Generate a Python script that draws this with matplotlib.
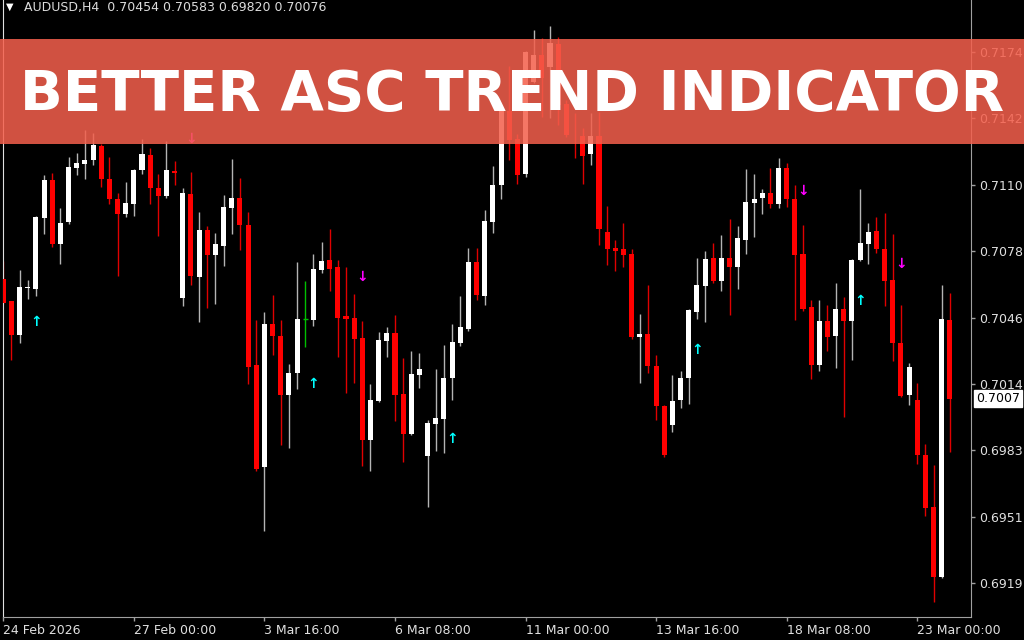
import matplotlib
matplotlib.use("Agg")
import matplotlib.pyplot as plt
from matplotlib.patches import Rectangle
import numpy as np

# ---------------- data (AUDUSD H4) ----------------
opens = [0.70651, 0.70543, 0.70380, 0.70605, 0.70604, 0.70945, 0.71126, 0.70820, 0.70922, 0.71182,
         0.71203, 0.71220, 0.71287, 0.71131, 0.71036, 0.70962, 0.71010, 0.71173, 0.71245, 0.71089,
         0.71046, 0.71169, 0.70560, 0.71057, 0.70658, 0.70883, 0.70763, 0.70810, 0.70993, 0.71038,
         0.70911, 0.70235, 0.69746, 0.70435, 0.70378, 0.70095, 0.70199, 0.70460, 0.70451, 0.70693,
         0.70740, 0.70706, 0.70471, 0.70463, 0.70366, 0.69875, 0.70065, 0.70351, 0.70392, 0.70099,
         0.69907, 0.70190, 0.69801, 0.69954, 0.69977, 0.70173, 0.70345, 0.70411, 0.70731, 0.70569,
         0.70922, 0.71101, 0.71456, 0.71321, 0.71154, 0.71596, 0.71725, 0.71669, 0.71778, 0.71490,
         0.71348, 0.71336, 0.71249, 0.71336, 0.70874, 0.70799, 0.70794, 0.70771, 0.70370, 0.70385,
         0.70233, 0.70040, 0.69949, 0.70070, 0.70173, 0.70493, 0.70618, 0.70750, 0.70642, 0.70750,
         0.70708, 0.70839, 0.71017, 0.71040, 0.71065, 0.71010, 0.71181, 0.71035, 0.70771, 0.70514,
         0.70237, 0.70449, 0.70376, 0.70504, 0.70449, 0.70739, 0.70818, 0.70880, 0.70792, 0.70645,
         0.70345, 0.70092, 0.70070, 0.69807, 0.69556, 0.69219, 0.70454]
highs = [0.70736, 0.70545, 0.70695, 0.70645, 0.70953, 0.71148, 0.71160, 0.70989, 0.71237, 0.71253,
         0.71363, 0.71353, 0.71296, 0.71234, 0.71063, 0.71116, 0.71177, 0.71322, 0.71279, 0.71154,
         0.71313, 0.71217, 0.71087, 0.71162, 0.70970, 0.70904, 0.70871, 0.71055, 0.71226, 0.71137,
         0.70970, 0.70455, 0.70493, 0.70575, 0.70455, 0.70241, 0.70731, 0.70642, 0.70771, 0.70827,
         0.70888, 0.70740, 0.70706, 0.70577, 0.70448, 0.70144, 0.70396, 0.70418, 0.70477, 0.70272,
         0.70304, 0.70294, 0.69973, 0.70220, 0.70332, 0.70436, 0.70569, 0.70799, 0.70799, 0.70983,
         0.71192, 0.71471, 0.71672, 0.71344, 0.71742, 0.71847, 0.71808, 0.71866, 0.71813, 0.71509,
         0.71447, 0.71375, 0.71447, 0.71453, 0.71002, 0.70837, 0.70917, 0.70794, 0.70480, 0.70622,
         0.70285, 0.70044, 0.70190, 0.70209, 0.70508, 0.70752, 0.70784, 0.70822, 0.70860, 0.70940,
         0.70904, 0.71177, 0.71154, 0.71082, 0.71181, 0.71230, 0.71207, 0.71101, 0.70907, 0.70551,
         0.70551, 0.70527, 0.70632, 0.70563, 0.70746, 0.71083, 0.70920, 0.70949, 0.70965, 0.70867,
         0.70527, 0.70249, 0.70151, 0.69860, 0.69758, 0.70622, 0.70583]
lows = [0.70528, 0.70262, 0.70342, 0.70552, 0.70566, 0.70866, 0.70803, 0.70723, 0.70913, 0.71148,
        0.71131, 0.71199, 0.71093, 0.71008, 0.70664, 0.70949, 0.70951, 0.71152, 0.71012, 0.70856,
        0.71040, 0.71103, 0.70518, 0.70622, 0.70442, 0.70512, 0.70528, 0.70714, 0.70866, 0.70788,
        0.70144, 0.69727, 0.69440, 0.70285, 0.69854, 0.69841, 0.70120, 0.70323, 0.70426, 0.70680,
        0.70590, 0.70275, 0.70104, 0.70152, 0.69750, 0.69730, 0.70061, 0.70274, 0.69968, 0.69772,
        0.69901, 0.70129, 0.69556, 0.69822, 0.69817, 0.70068, 0.70330, 0.70398, 0.70547, 0.70526,
        0.70872, 0.71036, 0.71221, 0.71106, 0.71140, 0.71591, 0.71427, 0.71423, 0.71389, 0.71331,
        0.71231, 0.71105, 0.71198, 0.70813, 0.70717, 0.70687, 0.70708, 0.70363, 0.70152, 0.70201,
        0.69973, 0.69797, 0.69916, 0.70032, 0.70049, 0.70460, 0.70442, 0.70631, 0.70590, 0.70476,
        0.70604, 0.70769, 0.70851, 0.70962, 0.70993, 0.70989, 0.70996, 0.70455, 0.70497, 0.70170,
        0.70210, 0.70302, 0.70223, 0.69988, 0.70259, 0.70736, 0.70724, 0.70773, 0.70518, 0.70257,
        0.70082, 0.70047, 0.69761, 0.69513, 0.69100, 0.69215, 0.69820]
closes = [0.70537, 0.70380, 0.70611, 0.70611, 0.70947, 0.71126, 0.70818, 0.70920, 0.71186, 0.71205,
          0.71220, 0.71291, 0.71129, 0.71036, 0.70962, 0.71017, 0.71175, 0.71249, 0.71089, 0.71046,
          0.71171, 0.71160, 0.71063, 0.70664, 0.70883, 0.70767, 0.70818, 0.70996, 0.71038, 0.70907,
          0.70228, 0.69740, 0.70435, 0.70375, 0.70095, 0.70201, 0.70460, 0.70460, 0.70697, 0.70736,
          0.70698, 0.70463, 0.70459, 0.70361, 0.69875, 0.70068, 0.70357, 0.70392, 0.70095, 0.69907,
          0.70194, 0.70216, 0.69958, 0.69981, 0.70173, 0.70349, 0.70418, 0.70731, 0.70575, 0.70926,
          0.71103, 0.71458, 0.71315, 0.71148, 0.71738, 0.71725, 0.71615, 0.71784, 0.71485, 0.71341,
          0.71344, 0.71239, 0.71336, 0.70892, 0.70793, 0.70786, 0.70765, 0.70372, 0.70385, 0.70233,
          0.70038, 0.69803, 0.70066, 0.70176, 0.70499, 0.70622, 0.70744, 0.70642, 0.70752, 0.70708,
          0.70848, 0.71019, 0.71036, 0.71065, 0.71008, 0.71181, 0.71033, 0.70763, 0.70507, 0.70237,
          0.70449, 0.70370, 0.70504, 0.70449, 0.70743, 0.70822, 0.70877, 0.70792, 0.70641, 0.70345,
          0.70090, 0.70227, 0.69807, 0.69552, 0.69219, 0.70459, 0.70076]
green_doji = [37]

# Better ASC Trend signals (bar index, price)
buy_bars = [4, 38, 55, 85, 105]
buy_prices = [0.70442, 0.70148, 0.69882, 0.70310, 0.70542]
sell_bars = [23, 44, 71, 98, 110]
sell_prices = [0.71321, 0.70660, 0.71557, 0.71072, 0.70724]

ytick_vals = [0.71740, 0.71421, 0.71103, 0.70784, 0.70465, 0.70146, 0.69828, 0.69509, 0.69190]
ytick_labels = ["0.7174", "0.7142", "0.7110", "0.7078", "0.7046", "0.7014", "0.6983", "0.6951", "0.6919"]
xtick_bars = [0, 16, 32, 48, 64, 80, 96, 112]
xtick_labels = ["24 Feb 2026", "27 Feb 00:00", "3 Mar 16:00", "6 Mar 08:00",
                "11 Mar 00:00", "13 Mar 16:00", "18 Mar 08:00", "23 Mar 00:00"]
last_price = 0.70076
last_price_label = "0.7007"
header = "AUDUSD,H4  0.70454 0.70583 0.69820 0.70076"
title = "BETTER ASC TREND INDICATOR"

# ---------------- figure ----------------
W, H = 1024, 640
fig = plt.figure(figsize=(W / 100, H / 100), dpi=100, facecolor="black")
ax = fig.add_axes([2.7 / W, 23 / H, 968 / W, 617 / H])
ax.set_facecolor("black")

o = np.array(opens); h = np.array(highs); l = np.array(lows); c = np.array(closes)
x = np.arange(len(o))
bull = c >= o
special = np.zeros(len(o), bool); special[green_doji] = True
nb = bull & ~special
br = ~bull & ~special

ax.vlines(x[nb], l[nb], h[nb], color="#b4b4b4", lw=1, zorder=2)
ax.vlines(x[br], l[br], h[br], color="#e00000", lw=1, zorder=2)
bottoms = np.minimum(o, c)
heights = np.maximum(np.abs(c - o), 0.00004)
ax.bar(x[nb], heights[nb], bottom=bottoms[nb], width=0.62, color="white", linewidth=0, zorder=3)
ax.bar(x[br], heights[br], bottom=bottoms[br], width=0.62, color="#ff0000", linewidth=0, zorder=3)
for i in green_doji:
    ax.vlines(i, lows[i], highs[i], color="#00c000", lw=1, zorder=2)
    ax.hlines(opens[i], i - 0.31, i + 0.31, color="#00c000", lw=1, zorder=3)

for i, p in zip(buy_bars, buy_prices):
    ax.text(i, p, "↑", color="#00ffff", fontsize=10, fontweight="bold",
            ha="center", va="center", zorder=4)
for i, p in zip(sell_bars, sell_prices):
    ax.text(i, p, "↓", color="#ff00ff", fontsize=10, fontweight="bold",
            ha="center", va="center", zorder=4)

ax.set_xlim(-0.07, 118.55)
ax.set_ylim(0.690275, 0.719891)

ax.yaxis.tick_right()
ax.set_yticks(ytick_vals)
ax.set_yticklabels(ytick_labels)
ax.set_xticks(xtick_bars)
ax.set_xticklabels(xtick_labels)
for lb in ax.get_xticklabels():
    lb.set_ha("left")
ax.tick_params(axis="both", colors="#a0a0a0", labelcolor="#e0e0e0", labelsize=9,
               length=3, width=1, direction="out", pad=3)
ax.tick_params(axis="x", pad=2)
ax.spines["top"].set_visible(False)
ax.spines["left"].set_color("#e0e0e0")
ax.spines["bottom"].set_color("#a0a0a0")
ax.spines["right"].set_color("#a0a0a0")

ax.annotate(last_price_label, xy=(1, last_price), xycoords=("axes fraction", "data"),
            xytext=(4, 0), textcoords="offset points", ha="left", va="center",
            color="black", fontsize=9, annotation_clip=False, zorder=5,
            bbox=dict(boxstyle="square,pad=0.15", fc="white", ec="white"))

# header
fig.text(6 / W, 1 - 7 / H, "▼", color="white", fontsize=7, ha="left", va="center")
fig.text(24 / W, 1 - 7 / H, header, color="#dcdcdc", fontsize=9, ha="left", va="center")

# banner
fig.add_artist(Rectangle((0, 1 - 144 / H), 1, 105 / H, transform=fig.transFigure,
                         facecolor=(244 / 255, 95 / 255, 76 / 255), alpha=0.86,
                         edgecolor="none", zorder=5))
fig.text(0.5, 1 - 110 / H, title, color="white", fontsize=40.5, fontweight="bold",
         family="DejaVu Sans", ha="center", va="baseline", zorder=6)

fig.savefig("out.png", dpi=100, facecolor="black")
